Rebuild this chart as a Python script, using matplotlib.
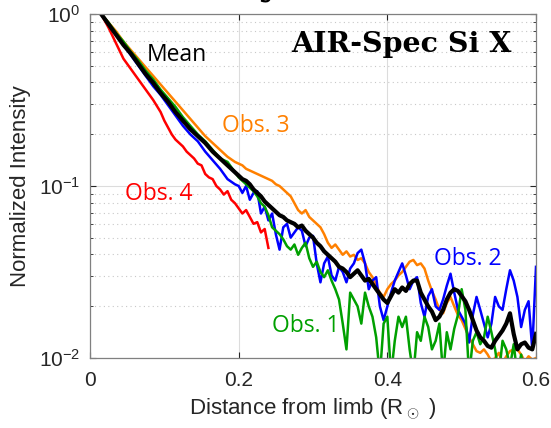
import numpy as np
import matplotlib
matplotlib.use('Agg')
from matplotlib import pyplot as plt
from matplotlib.ticker import LogLocator, NullFormatter

plt.rcParams['font.family'] = ['Liberation Sans', 'DejaVu Sans']
plt.rcParams['mathtext.fontset'] = 'custom'
plt.rcParams['mathtext.rm'] = 'Liberation Sans'
plt.rcParams['axes.unicode_minus'] = False

# sample positions (distance from limb, R_sun)
x_head = [0.015, 0.025, 0.035, 0.045, 0.055, 0.065, 0.075, 0.085, 0.095, 0.105,
          0.115, 0.125, 0.135, 0.145, 0.155, 0.165, 0.175, 0.185, 0.195]
x_tail = list(np.round(np.arange(0.2, 0.6001, 0.005), 3))
x_all = x_head + x_tail

# log10 of normalized intensity
mean_log = [0, -0.06, -0.12, -0.18, -0.23, -0.29, -0.35, -0.40, -0.46, -0.51,
            -0.57, -0.62, -0.67, -0.71, -0.75, -0.80, -0.84, -0.88, -0.92,
            -0.94, -0.96, -0.97, -0.99, -1.02, -1.04, -1.06, -1.09, -1.11, -1.13,
            -1.15, -1.17, -1.18, -1.20, -1.21, -1.22, -1.24, -1.23, -1.26, -1.28,
            -1.30, -1.33, -1.35, -1.38, -1.40, -1.42, -1.44, -1.47, -1.48, -1.50,
            -1.53, -1.51, -1.49, -1.52, -1.55, -1.54, -1.57, -1.60, -1.63, -1.66,
            -1.68, -1.64, -1.60, -1.62, -1.59, -1.61, -1.57, -1.55, -1.55, -1.62,
            -1.66, -1.70, -1.73, -1.78, -1.76, -1.72, -1.66, -1.62, -1.60, -1.61,
            -1.64, -1.67, -1.72, -1.78, -1.84, -1.88, -1.90, -1.93, -1.94, -1.90,
            -1.87, -1.84, -1.80, -1.74, -1.86, -1.95, -1.92, -1.91, -1.94, -1.95,
            -1.86]
obs1_log = [0, -0.05, -0.11, -0.16, -0.22, -0.27, -0.33, -0.38, -0.44, -0.49,
            -0.54, -0.60, -0.65, -0.70, -0.74, -0.79, -0.84, -0.86, -0.92,
            -0.95, -0.97, -0.99, -1.01, -1.03, -1.06, -1.10, -1.12, -1.17, -1.24,
            -1.26, -1.28, -1.31, -1.35, -1.37, -1.34, -1.40, -1.36, -1.33, -1.42,
            -1.47, -1.44, -1.50, -1.53, -1.49, -1.55, -1.60, -1.66, -1.80, -1.95,
            -1.62, -1.66, -1.70, -1.80, -1.62, -1.70, -1.76, -1.88, -2.10, -1.80,
            -1.76, -2.10, -1.90, -1.76, -1.82, -1.76, -1.95, -2.10, -1.85, -1.90,
            -1.76, -1.82, -1.95, -1.90, -1.80, -2.10, -1.85, -1.95, -1.83, -1.75,
            -1.60, -1.72, -2.10, -1.90, -1.85, -1.92, -1.88, -1.76, -1.85, -1.95,
            -2.10, -1.90, -1.95, -2.05, -1.92, -2.10, -1.98, -2.10, -2.05, -2.10,
            -2.10]
obs2_log = [0, -0.06, -0.12, -0.18, -0.24, -0.30, -0.36, -0.42, -0.47, -0.53,
            -0.59, -0.65, -0.70, -0.74, -0.80, -0.85, -0.90, -0.96, -0.99,
            -1.00, -1.04, -1.00, -1.08, -1.04, -1.03, -1.16, -1.12, -1.20, -1.16,
            -1.28, -1.37, -1.24, -1.22, -1.30, -1.27, -1.24, -1.26, -1.35, -1.30,
            -1.29, -1.45, -1.56, -1.45, -1.41, -1.52, -1.55, -1.47, -1.50, -1.56,
            -1.48, -1.45, -1.39, -1.37, -1.45, -1.60, -1.55, -1.53, -1.70, -1.78,
            -1.70, -1.62, -1.55, -1.50, -1.45, -1.52, -1.60, -1.55, -1.53, -1.68,
            -1.76, -1.64, -1.60, -1.70, -1.72, -1.66, -1.58, -1.51, -1.62, -1.72,
            -1.76, -1.80, -1.91, -1.75, -1.645, -1.72, -1.80, -1.88, -1.80, -1.645,
            -1.70, -1.72, -1.60, -1.49, -1.55, -1.645, -1.82, -1.72, -1.67, -1.95,
            -1.47]
obs3_log = [0, -0.05, -0.10, -0.16, -0.21, -0.26, -0.31, -0.36, -0.41, -0.46,
            -0.51, -0.56, -0.61, -0.66, -0.71, -0.75, -0.79, -0.83, -0.86,
            -0.87, -0.88, -0.90, -0.91, -0.92, -0.93, -0.94, -0.95, -0.96, -0.97,
            -0.99, -1.00, -1.02, -1.04, -1.06, -1.10, -1.14, -1.16, -1.14, -1.18,
            -1.20, -1.22, -1.24, -1.28, -1.33, -1.36, -1.34, -1.37, -1.40, -1.38,
            -1.41, -1.40, -1.43, -1.42, -1.45, -1.50, -1.53, -1.58, -1.62, -1.645,
            -1.60, -1.57, -1.55, -1.52, -1.50, -1.47, -1.44, -1.43, -1.46, -1.45,
            -1.48, -1.55, -1.61, -1.66, -1.72, -1.74, -1.68, -1.645, -1.70, -1.75,
            -1.78, -1.83, -1.88, -1.92, -1.96, -1.97, -1.95, -1.98, -2.02, -2.00,
            -1.97, -2.03, -1.99, -1.96, -1.95, -1.95, -1.98, -2.02, -1.99, -2.01,
            -2.00]
x_obs4 = [0.015, 0.025, 0.035, 0.045, 0.055, 0.065, 0.075, 0.085, 0.095, 0.1,
          0.105, 0.11, 0.115, 0.12, 0.125, 0.13, 0.135, 0.14, 0.145, 0.15,
          0.155, 0.16, 0.165, 0.17, 0.175, 0.18, 0.185, 0.19, 0.195, 0.2,
          0.205, 0.21, 0.215, 0.22, 0.225, 0.23, 0.235, 0.24]
obs4_log = [0, -0.08, -0.17, -0.26, -0.32, -0.38, -0.44, -0.50, -0.57, -0.62,
            -0.66, -0.70, -0.73, -0.75, -0.77, -0.80, -0.82, -0.84, -0.87, -0.88,
            -0.93, -0.95, -0.96, -1.00, -1.02, -1.05, -1.03, -1.08, -1.10, -1.13,
            -1.16, -1.14, -1.18, -1.22, -1.21, -1.27, -1.25, -1.36]

c_orange = '#ff8000'
c_blue = '#0000ff'
c_green = '#00a000'
c_red = '#ff0000'

fig = plt.figure(figsize=(5.51, 4.28), dpi=100)
ax = fig.add_axes([90/551, 1-358/428, 446/551, 344/428])

ax.plot(x_all, 10**np.array(obs3_log), color=c_orange, lw=1.8)
ax.plot(x_obs4, 10**np.array(obs4_log), color=c_red, lw=1.8)
ax.plot(x_all, 10**np.array(obs2_log), color=c_blue, lw=1.8)
ax.plot(x_all, 10**np.array(obs1_log), color=c_green, lw=1.8)
ax.plot(x_all, 10**np.array(mean_log), color='black', lw=3.0)

ax.set_yscale('log')
ax.set_xlim(0, 0.6)
ax.set_ylim(0.01, 1)
ax.set_xticks([0, 0.2, 0.4, 0.6])
ax.set_xticklabels(['0', '0.2', '0.4', '0.6'])
ax.yaxis.set_minor_locator(LogLocator(base=10, subs=np.arange(2, 10)))
ax.yaxis.set_minor_formatter(NullFormatter())

ax.grid(True, which='major', color='#dcdcdc', lw=0.8, ls='-')
ax.grid(True, which='minor', axis='y', color='#c8c8c8', lw=0.8, ls=(0, (1, 3)))
ax.tick_params(which='both', direction='in', top=True, right=True,
               labelsize=15, colors='#262626')
ax.tick_params(axis='x', pad=9)
ax.tick_params(axis='y', pad=7)
ax.tick_params(which='major', length=4)
ax.tick_params(which='minor', length=2.5)
for s in ax.spines.values():
    s.set_color('#808080')
    s.set_linewidth(0.9)

ax.set_xlabel('Distance from limb (R$_\\odot$ )', fontsize=16, color='#262626', labelpad=5)
ax.set_ylabel('Normalized Intensity', fontsize=16, color='#262626', labelpad=6)

lab = dict(family='Open Sans', fontsize=16.5)
ax.text(0.077, 0.533, 'Mean', color='black', **lab)
ax.text(0.178, 0.206, 'Obs. 3', color=c_orange, **lab)
ax.text(0.047, 0.083, 'Obs. 4', color=c_red, **lab)
ax.text(0.463, 0.0347, 'Obs. 2', color=c_blue, **lab)
ax.text(0.245, 0.0142, 'Obs. 1', color=c_green, **lab)
ax.text(0.271, 0.60, 'AIR-Spec Si X', color='black',
        family='DejaVu Serif', fontweight='bold', fontsize=20.5)

# tail of a cut-off title above the frame
fig.text(258/551, 1 + 6/428, 'y', fontsize=28, fontweight='bold',
         family='DejaVu Serif', va='baseline', ha='left')

fig.savefig('out.png', dpi=100)
